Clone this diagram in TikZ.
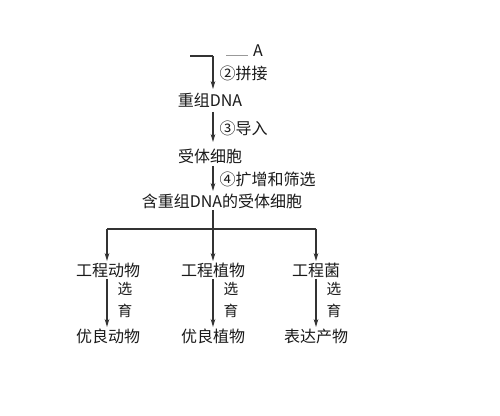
\documentclass[tikz,border=0pt]{standalone}
\usepackage{fontspec}
\newfontfamily\cjk{Noto Sans CJK SC}
\usetikzlibrary{arrows.meta}
\tikzset{
  lbl/.style={font=\cjk\fontsize{12}{14}\selectfont, inner sep=1pt, text=black!90},
  arr/.style={-{Stealth[length=6pt,width=3.5pt]}, line width=0.8pt, black!80},
  ln/.style={line width=0.8pt, black!80}
}
\begin{document}
\begin{tikzpicture}[x=0.75pt,y=-0.75pt]
    \useasboundingbox (0,0) rectangle (500,416);
    % top part
    \coordinate (T0) at (190,56);
    \coordinate (T1) at (213,56);
    \node[lbl] (A) at (258,51) {A};
    \draw[black!40, line width=0.6pt] (226,55) -- (248,55);
    \node[lbl] (R) at (210,100) {重组DNA};
    \node[lbl] (S) at (210,156) {受体细胞};
    \node[lbl] (H) at (222,201) {含重组DNA的受体细胞};
    \node[lbl, anchor=west] (L2) at (218,73) {②拼接};
    \node[lbl, anchor=west] (L3) at (218,128) {③导入};
    \node[lbl, anchor=west] (L4) at (218,179) {④扩增和筛选};
    \draw[ln] (T0) -- (T1);
    \draw[arr] (T1) -- (213,89);
    \draw[arr] (213,112) -- (213,142);
    \draw[arr] (213,166) -- (213,191);
    % branches
    \coordinate (B0) at (213,229);
    \coordinate (B1) at (107,229);
    \coordinate (B2) at (316,229);
    \node[lbl] (E1) at (108,270) {工程动物};
    \node[lbl] (E2) at (213,270) {工程植物};
    \node[lbl] (E3) at (316,270) {工程菌};
    \node[lbl] (P1) at (108,336) {优良动物};
    \node[lbl] (P2) at (213,336) {优良植物};
    \node[lbl] (P3) at (316,336) {表达产物};
    \draw[ln] (H.south -| B0) -- (B0);
    \draw[ln] (B1) -- (B2);
    \draw[arr] (B1) -- (E1.north -| B1);
    \draw[arr] (B0) -- (E2.north);
    \draw[arr] (B2) -- (E3.north -| B2);
    \draw[arr] (E1.south -| B1) -- (P1.north -| B1);
    \draw[arr] (E2.south) -- (P2.north);
    \draw[arr] (E3.south -| B2) -- (P3.north -| B2);
    \node[lbl, align=center, font=\cjk\fontsize{11}{16}\selectfont] (X1) at (125,300) {选\\育};
    \node[lbl, align=center, font=\cjk\fontsize{11}{16}\selectfont] (X2) at (231,300) {选\\育};
    \node[lbl, align=center, font=\cjk\fontsize{11}{16}\selectfont] (X3) at (334,300) {选\\育};
\end{tikzpicture}
\end{document}
